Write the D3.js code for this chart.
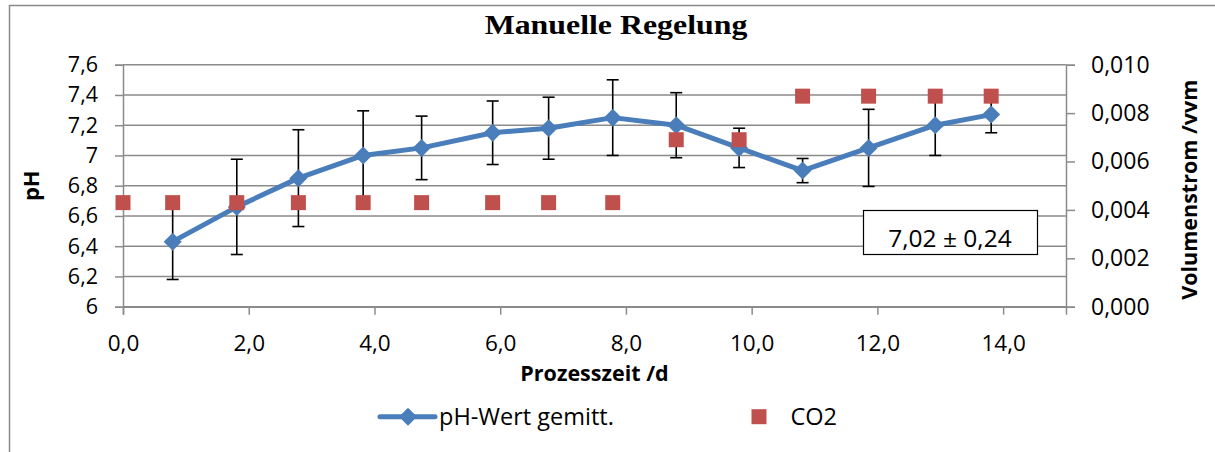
<!DOCTYPE html>
<html>
<head>
<meta charset="utf-8">
<script src="https://cdn.jsdelivr.net/npm/d3@7"></script>
<style>
  html, body { margin: 0; padding: 0; background: #fff; }
  svg { display: block; }
  text { font-family: "Open Sans", "Noto Sans", sans-serif; fill: #000; }
</style>
</head>
<body>
<svg id="chart" width="1215" height="452"></svg>
<script>
// Process time (days) of the averaged pH readings
const dayPH = [0.79, 1.81, 2.79, 3.82, 4.75, 5.88, 6.77, 7.79, 8.80, 9.80, 10.81, 11.86, 12.92, 13.81];
// Averaged pH per sampling day and its standard deviation
const phMean = [6.43, 6.66, 6.85, 7.00, 7.05, 7.15, 7.18, 7.25, 7.20, 7.05, 6.90, 7.05, 7.20, 7.27];
const phErr  = [0.25, 0.315, 0.32, 0.295, 0.21, 0.21, 0.205, 0.25, 0.215, 0.13, 0.08, 0.255, 0.20, 0.12];
// CO2 gas flow (vvm) set on each day
const dayCO2 = [0, 0.79, 1.81, 2.79, 3.82, 4.75, 5.88, 6.77, 7.79, 8.80, 9.80, 10.81, 11.86, 12.92, 13.81];
const co2Flow = [0.0043, 0.0043, 0.0043, 0.0043, 0.0043, 0.0043, 0.0043, 0.0043, 0.0043,
                 0.0069, 0.0069, 0.0087, 0.0087, 0.0087, 0.0087];
// Axis ticks
const xTicks = [0, 2, 4, 6, 8, 10, 12, 14];
const yTicks = [6, 6.2, 6.4, 6.6, 6.8, 7, 7.2, 7.4, 7.6];
const y2Ticks = [0, 0.002, 0.004, 0.006, 0.008, 0.010];
const summaryLabel = "7,02 ± 0,24";

const svg = d3.select("#chart");
const plot = { left: 123, right: 1066, top: 64.7, bottom: 306.7 };
const gridColor = "#8b8b8b";
const blue = "#4a7ebb";
const red = "#c0504d";

const x = d3.scaleLinear().domain([0, 15]).range([plot.left, plot.right]);
const y = d3.scaleLinear().domain([6, 7.6]).range([plot.bottom, plot.top]);
const y2 = d3.scaleLinear().domain([0, 0.010]).range([plot.bottom, plot.top]);

const comma = (v, digits) => d3.format("." + digits + "f")(v).replace(".", ",");
const phFmt = v => (Math.abs(v - Math.round(v)) < 1e-9 ? String(Math.round(v)) : comma(v, 1));

// Chart frame
svg.append("path")
  .attr("d", "M9.5,452 V5.5 H1215")
  .attr("fill", "none").attr("stroke", "#8a8a8a").attr("stroke-width", 1.5);

// Title
svg.append("text")
  .attr("transform", "translate(616,34) scale(1.18,1)")
  .attr("text-anchor", "middle")
  .style("font-family", "'Liberation Serif', 'Times New Roman', serif")
  .style("font-weight", "bold")
  .style("font-size", "27px")
  .text("Manuelle Regelung");

// Horizontal gridlines
svg.append("g").selectAll("line").data(yTicks).join("line")
  .attr("x1", plot.left).attr("x2", plot.right)
  .attr("y1", d => y(d)).attr("y2", d => y(d))
  .attr("stroke", gridColor).attr("stroke-width", 1.5);

// Left axis
const leftAxis = d3.axisLeft(y).tickValues(yTicks).tickFormat(phFmt).tickSize(8).tickPadding(17);
const gL = svg.append("g").attr("transform", `translate(${plot.left},0)`).call(leftAxis);
gL.select(".domain").attr("stroke", gridColor).attr("stroke-width", 1.5);
gL.selectAll(".tick line").attr("stroke", gridColor).attr("stroke-width", 1.5);
gL.selectAll(".tick text").style("font-size", "21.5px").style("font-family", "'Open Sans', sans-serif");

// Right axis
const rightAxis = d3.axisRight(y2).tickValues(y2Ticks).tickFormat(v => comma(v, 3)).tickSize(9).tickPadding(16);
const gR = svg.append("g").attr("transform", `translate(${plot.right},0)`).call(rightAxis);
gR.select(".domain").attr("stroke", gridColor).attr("stroke-width", 1.5);
gR.selectAll(".tick line").attr("stroke", gridColor).attr("stroke-width", 1.5);
gR.selectAll(".tick text").style("font-size", "23px").style("font-family", "'Open Sans', sans-serif");

// Bottom axis
const bottomAxis = d3.axisBottom(x).tickValues(xTicks).tickFormat(v => comma(v, 1)).tickSize(8).tickPadding(20);
const gB = svg.append("g").attr("transform", `translate(0,${plot.bottom})`).call(bottomAxis);
gB.select(".domain").attr("stroke", gridColor).attr("stroke-width", 1.5);
gB.selectAll(".tick line").attr("stroke", gridColor).attr("stroke-width", 1.5);
gB.selectAll(".tick text").style("font-size", "22.5px").style("font-family", "'Open Sans', sans-serif");

// Axis titles
svg.append("text")
  .attr("x", (plot.left + plot.right) / 2).attr("y", 381)
  .attr("text-anchor", "middle")
  .style("font-weight", "bold").style("font-size", "21.5px")
  .text("Prozesszeit /d");

svg.append("text")
  .attr("transform", `translate(39,${(plot.top + plot.bottom) / 2}) rotate(-90)`)
  .attr("text-anchor", "middle")
  .style("font-weight", "bold").style("font-size", "22px")
  .text("pH");

svg.append("text")
  .attr("transform", `translate(1197,${(plot.top + plot.bottom) / 2 + 4}) rotate(-90)`)
  .attr("text-anchor", "middle")
  .style("font-weight", "bold").style("font-size", "21.5px")
  .text("Volumenstrom /vvm");

// Summary box
const boxG = svg.append("g");
boxG.append("rect")
  .attr("x", 863.5).attr("y", 210.5).attr("width", 174).attr("height", 44)
  .attr("fill", "#fff").attr("stroke", "#000").attr("stroke-width", 1.2);
boxG.append("text")
  .attr("x", 950).attr("y", 246.5).attr("text-anchor", "middle")
  .style("font-size", "24.5px")
  .text(summaryLabel);

// pH series: error bars, line, markers
const ph = dayPH.map((d, i) => ({ t: d, v: phMean[i], e: phErr[i] }));
const eb = svg.append("g").attr("stroke", "#000").attr("stroke-width", 1.6);
eb.selectAll("line.v").data(ph).join("line").attr("class", "v")
  .attr("x1", d => x(d.t)).attr("x2", d => x(d.t))
  .attr("y1", d => y(d.v - d.e)).attr("y2", d => y(d.v + d.e));
eb.selectAll("line.top").data(ph).join("line").attr("class", "top")
  .attr("x1", d => x(d.t) - 6).attr("x2", d => x(d.t) + 6)
  .attr("y1", d => y(d.v + d.e)).attr("y2", d => y(d.v + d.e));
eb.selectAll("line.bot").data(ph).join("line").attr("class", "bot")
  .attr("x1", d => x(d.t) - 6).attr("x2", d => x(d.t) + 6)
  .attr("y1", d => y(d.v - d.e)).attr("y2", d => y(d.v - d.e));

const line = d3.line().x(d => x(d.t)).y(d => y(d.v));
svg.append("path").datum(ph)
  .attr("d", line)
  .attr("fill", "none").attr("stroke", blue).attr("stroke-width", 5)
  .attr("stroke-linejoin", "round");

const diamond = "M0,-9L9,0L0,9L-9,0Z";
svg.append("g").selectAll("path").data(ph).join("path")
  .attr("transform", d => `translate(${x(d.t)},${y(d.v)})`)
  .attr("d", diamond).attr("fill", blue);

// CO2 series markers
const co2 = dayCO2.map((d, i) => ({ t: d, v: co2Flow[i] }));
svg.append("g").selectAll("rect").data(co2).join("rect")
  .attr("x", d => x(d.t) - 7.5).attr("y", d => y2(d.v) - 7.5)
  .attr("width", 15).attr("height", 15).attr("fill", red);

// Legend
const lg = svg.append("g");
const ly = 416.7;
lg.append("line").attr("x1", 380).attr("x2", 435).attr("y1", ly).attr("y2", ly)
  .attr("stroke", blue).attr("stroke-width", 5).attr("stroke-linecap", "round");
lg.append("path").attr("transform", `translate(408,${ly})`).attr("d", diamond).attr("fill", blue);
lg.append("text").attr("x", 439).attr("y", ly + 8.5).style("font-size", "23.5px").text("pH-Wert gemitt.");
lg.append("rect").attr("x", 751.5).attr("y", ly - 7.5).attr("width", 15).attr("height", 15).attr("fill", red);
lg.append("text").attr("x", 790.5).attr("y", ly + 8.5).style("font-size", "23.5px").text("CO2");
</script>
</body>
</html>
